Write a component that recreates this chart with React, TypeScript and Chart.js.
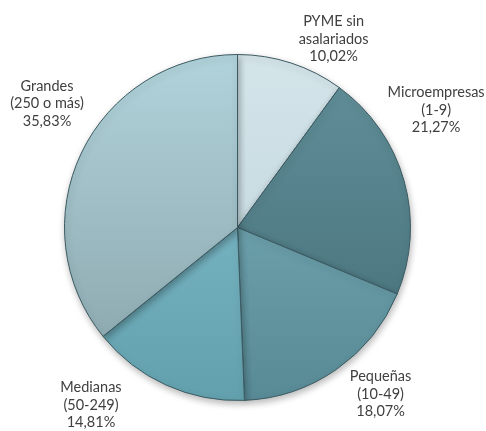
import React, { useEffect, useRef } from "react";
import { Chart, registerables } from "chart.js";

Chart.register(...registerables);

const categories = ["PYME sin asalariados", "Microempresas (1-9)", "Pequeñas (10-49)", "Medianas (50-249)", "Grandes (250 o más)"];
const labelLines = [["PYME sin", "asalariados"], ["Microempresas", "(1-9)"], ["Pequeñas", "(10-49)"], ["Medianas", "(50-249)"], ["Grandes", "(250 o más)"]];
const values = [10.02, 21.27, 18.07, 14.81, 35.83];

const topColors = ["#D4E5EA", "#62909A", "#7DB3BF", "#88C4D2", "#B1D3DB"];
const bottomColors = ["#BBD1D8", "#436D77", "#588A95", "#62A0AD", "#88A2A9"];
// label placement tweaks (degrees added to mid angle, radius factor)
const labelAngleShift = [9, -14.9, -5.8, 15.2, 7.5];
const labelRadiusFactor = [1.222, 1.333, 1.27, 1.33, 1.313];

const labelPlugin = {
  id: "outsideLabels",
  afterDraw(chart: any) {
    const ctx = chart.ctx;
    const meta = chart.getDatasetMeta(0);
    ctx.save();
    ctx.font = "14.5px Lato, 'Open Sans', sans-serif";
    ctx.fillStyle = "#404040";
    ctx.textAlign = "center";
    ctx.textBaseline = "middle";
    meta.data.forEach((arc: any, i: number) => {
      const p = arc.getProps(["x", "y", "startAngle", "endAngle", "outerRadius"], true);
      const mid = (p.startAngle + p.endAngle) / 2 + (labelAngleShift[i] * Math.PI) / 180;
      const d = p.outerRadius * labelRadiusFactor[i];
      const cx = p.x + Math.cos(mid) * d;
      const cy = p.y + Math.sin(mid) * d;
      const lines = [...labelLines[i], values[i].toFixed(2).replace(".", ",") + "%"];
      const lh = 17.5;
      lines.forEach((t, k) => {
        ctx.fillText(t, cx, cy + (k - (lines.length - 1) / 2) * lh);
      });
    });
    ctx.restore();
  },
};

const shadowPlugin = {
  id: "pieShadow",
  beforeDatasetsDraw(chart: any) {
    const ctx = chart.ctx;
    ctx.save();
    ctx.shadowColor = "rgba(0,0,0,0.28)";
    ctx.shadowBlur = 7;
    ctx.shadowOffsetX = 1;
    ctx.shadowOffsetY = 3;
  },
  afterDatasetsDraw(chart: any) {
    chart.ctx.restore();
  },
};

export default function App() {
  const ref = useRef<HTMLCanvasElement>(null);
  useEffect(() => {
    document.body.style.margin = "0";
    const chart = new Chart(ref.current!, {
      type: "pie",
      data: {
        labels: categories,
        datasets: [
          {
            data: values,
            backgroundColor: (c: any) => {
              const i = c.dataIndex;
              const area = c.chart.chartArea;
              if (!area) return topColors[i];
              const g = c.chart.ctx.createLinearGradient(0, area.top, 0, area.bottom);
              g.addColorStop(0, topColors[i]);
              g.addColorStop(1, bottomColors[i]);
              return g;
            },
            borderColor: "#3B5A61",
            borderWidth: 1,
          },
        ],
      },
      options: {
        animation: false,
        responsive: true,
        maintainAspectRatio: false,
        layout: { padding: { top: 54, bottom: 30, left: 63, right: 74 } },
        plugins: {
          legend: { display: false },
          tooltip: { enabled: false },
        },
      },
      plugins: [shadowPlugin, labelPlugin],
    });
    return () => chart.destroy();
  }, []);
  return (
    <div style={{ position: "absolute", left: 0, top: 0, width: 486, height: 431, background: "#fff" }}>
      <canvas ref={ref} />
    </div>
  );
}
